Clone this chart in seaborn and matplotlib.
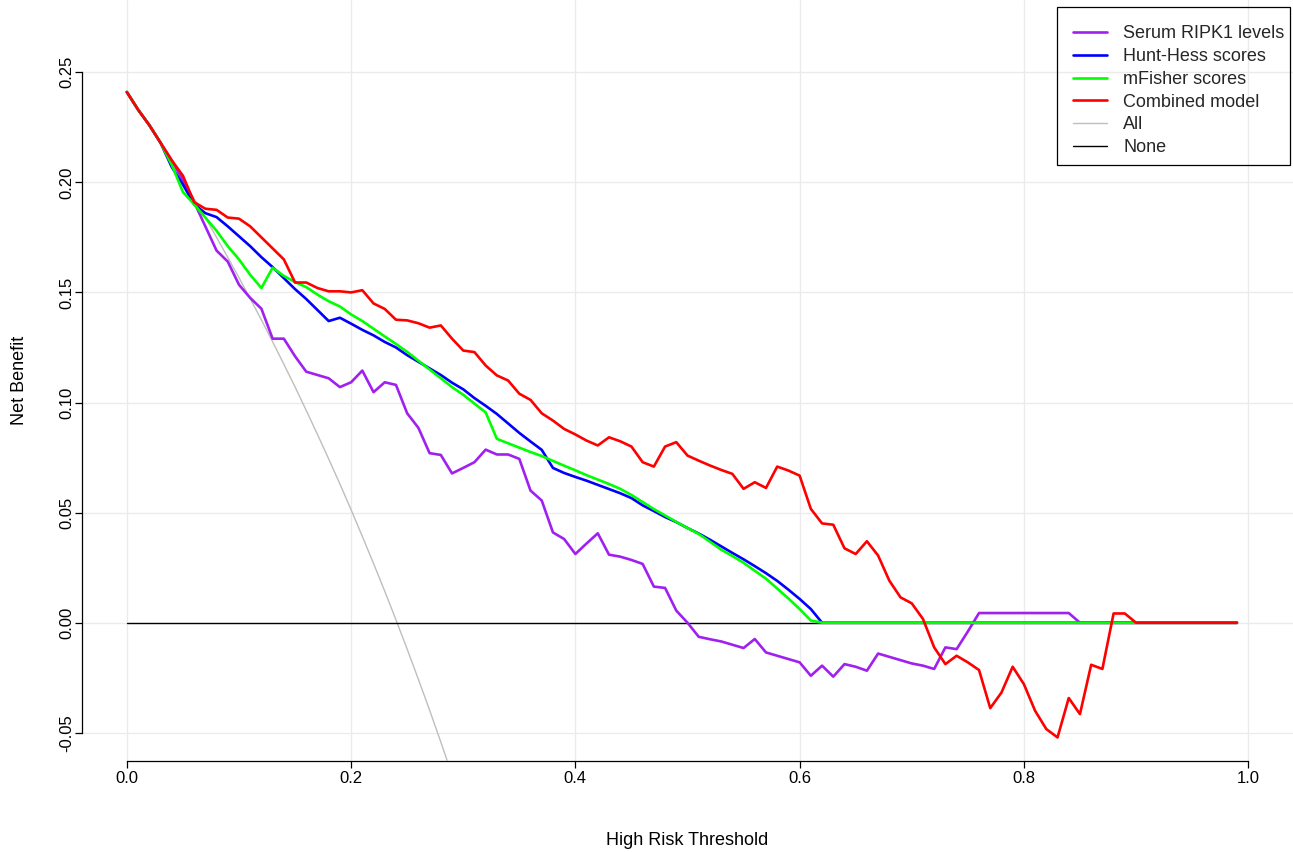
import numpy as np
import pandas as pd
import matplotlib
matplotlib.use("Agg")
import matplotlib.pyplot as plt
from matplotlib.patches import Rectangle
import seaborn as sns

# Threshold probabilities, 0.00 to 0.99
thresholds = np.round(np.arange(0, 100) * 0.01, 2)

ripk1_nb = [
    0.241, 0.233, 0.226, 0.218, 0.210, 0.201, 0.191, 0.180, 0.169, 0.164,
    0.1535, 0.1475, 0.1426, 0.129, 0.129, 0.121, 0.114, 0.1125, 0.111, 0.107,
    0.1092, 0.1145, 0.1047, 0.1092, 0.108, 0.0951, 0.0885, 0.077, 0.0762, 0.0678,
    0.0703, 0.0729, 0.0786, 0.0764, 0.0764, 0.0744, 0.060, 0.0555, 0.041, 0.038,
    0.0312, 0.036, 0.0406, 0.0309, 0.030, 0.0285, 0.0267, 0.0164, 0.0158, 0.0055,
    0.0, -0.0064, -0.0075, -0.0085, -0.010, -0.0115, -0.0074, -0.0135, -0.015, -0.0165,
    -0.018, -0.0241, -0.0195, -0.0245, -0.0188, -0.020, -0.0218, -0.014, -0.0155, -0.017,
    -0.0185, -0.0195, -0.021, -0.0112, -0.012, -0.004, 0.0044, 0.0044, 0.0044, 0.0044,
    0.0044, 0.0044, 0.0044, 0.0044, 0.0044, 0.0, 0.0, 0.0, 0.0, 0.0,
    0.0, 0.0, 0.0, 0.0, 0.0, 0.0, 0.0, 0.0, 0.0, 0.0,
]

hunt_hess_nb = [
    0.241, 0.233, 0.226, 0.218, 0.207, 0.199, 0.190, 0.186, 0.1842, 0.180,
    0.1755, 0.171, 0.166, 0.1615, 0.1565, 0.1515, 0.147, 0.142, 0.137, 0.1385,
    0.1358, 0.133, 0.1305, 0.1275, 0.125, 0.1215, 0.1185, 0.1155, 0.1125, 0.109,
    0.106, 0.102, 0.0985, 0.0948, 0.0905, 0.0862, 0.0823, 0.0785, 0.0703, 0.068,
    0.0662, 0.0645, 0.0626, 0.0607, 0.0588, 0.0566, 0.0533, 0.0507, 0.048, 0.0457,
    0.043, 0.0405, 0.0377, 0.0347, 0.0317, 0.0288, 0.0257, 0.0225, 0.019, 0.015,
    0.0108, 0.0062, 0.0, 0.0, 0.0, 0.0, 0.0, 0.0, 0.0, 0.0,
    0.0, 0.0, 0.0, 0.0, 0.0, 0.0, 0.0, 0.0, 0.0, 0.0,
    0.0, 0.0, 0.0, 0.0, 0.0, 0.0, 0.0, 0.0, 0.0, 0.0,
    0.0, 0.0, 0.0, 0.0, 0.0, 0.0, 0.0, 0.0, 0.0, 0.0,
]

mfisher_nb = [
    0.241, 0.233, 0.226, 0.218, 0.208, 0.1956, 0.190, 0.184, 0.178, 0.171,
    0.165, 0.158, 0.152, 0.1612, 0.1575, 0.1547, 0.1524, 0.149, 0.146, 0.1436,
    0.140, 0.137, 0.1335, 0.130, 0.1266, 0.123, 0.119, 0.115, 0.111, 0.107,
    0.1035, 0.0995, 0.0955, 0.0835, 0.0815, 0.0795, 0.0775, 0.0757, 0.0735, 0.0713,
    0.0692, 0.067, 0.065, 0.063, 0.0608, 0.058, 0.0548, 0.0516, 0.0487, 0.0458,
    0.043, 0.0403, 0.0368, 0.0332, 0.0303, 0.0272, 0.0236, 0.020, 0.0155, 0.011,
    0.0062, 0.001, 0.0, 0.0, 0.0, 0.0, 0.0, 0.0, 0.0, 0.0,
    0.0, 0.0, 0.0, 0.0, 0.0, 0.0, 0.0, 0.0, 0.0, 0.0,
    0.0, 0.0, 0.0, 0.0, 0.0, 0.0, 0.0, 0.0, 0.0, 0.0,
    0.0, 0.0, 0.0, 0.0, 0.0, 0.0, 0.0, 0.0, 0.0, 0.0,
]

combined_nb = [
    0.241, 0.233, 0.226, 0.218, 0.210, 0.203, 0.191, 0.188, 0.1875, 0.184,
    0.1835, 0.180, 0.175, 0.170, 0.165, 0.1545, 0.1545, 0.152, 0.1505, 0.1505,
    0.150, 0.151, 0.145, 0.1425, 0.1376, 0.1373, 0.136, 0.134, 0.135, 0.129,
    0.1236, 0.1229, 0.1168, 0.1123, 0.110, 0.104, 0.1012, 0.0951, 0.0918, 0.088,
    0.0855, 0.0827, 0.0805, 0.0842, 0.0824, 0.080, 0.0729, 0.0709, 0.080, 0.082,
    0.0759, 0.0736, 0.0714, 0.0694, 0.0676, 0.0608, 0.0638, 0.0612, 0.0709, 0.0691,
    0.0668, 0.0517, 0.0451, 0.0445, 0.0338, 0.0312, 0.037, 0.0305, 0.0191, 0.0115,
    0.0088, 0.0017, -0.0112, -0.0188, -0.015, -0.018, -0.0215, -0.0388, -0.0317, -0.020,
    -0.0279, -0.040, -0.0483, -0.0521, -0.0342, -0.0415, -0.0191, -0.021, 0.0042, 0.0042,
    0.0, 0.0, 0.0, 0.0, 0.0, 0.0, 0.0, 0.0, 0.0, 0.0,
]

# Treat-all strategy (drawn until it leaves the panel)
all_thresholds = thresholds[:30]
all_nb = [
    0.241, 0.2333, 0.2255, 0.2175, 0.2094, 0.2011, 0.1926, 0.1839, 0.1750, 0.1659,
    0.1567, 0.1472, 0.1375, 0.1276, 0.1174, 0.1071, 0.0964, 0.0855, 0.0744, 0.0630,
    0.0513, 0.0392, 0.0269, 0.0143, 0.0013, -0.0120, -0.0257, -0.0397, -0.0542, -0.0690,
]
# Treat-none strategy
none_nb = [0.0] * len(thresholds)

series_names = ["Serum RIPK1 levels", "Hunt-Hess scores", "mFisher scores",
                "Combined model", "All", "None"]
series_colors = ["#A020F0", "#0000FF", "#00FF00", "#FF0000", "#BEBEBE", "#000000"]

x_ticks = [0.0, 0.2, 0.4, 0.6, 0.8, 1.0]
x_tick_labels = ["0.0", "0.2", "0.4", "0.6", "0.8", "1.0"]
y_ticks = [-0.05, 0.0, 0.05, 0.10, 0.15, 0.20, 0.25]
y_tick_labels = ["-0.05", "0.00", "0.05", "0.10", "0.15", "0.20", "0.25"]

sns.set_theme(style="white")
plt.rcParams["font.family"] = ["Liberation Sans", "DejaVu Sans"]

W, H = 1293, 852
fig = plt.figure(figsize=(W / 100, H / 100), dpi=100)
ax = fig.add_axes([82 / W, 1 - 761 / H, (W - 82) / W, 761 / H])

ax.set_xlim(-0.04, 1.04)
ax.set_ylim(-0.05 - 0.0128, 0.27 + 0.0128)

# light grid at the tick positions
for xv in x_ticks:
    ax.axvline(xv, color="#EBEBEB", lw=1.0, zorder=0)
for yv in y_ticks:
    ax.axhline(yv, color="#EBEBEB", lw=1.0, zorder=0)

frames = {
    "All": pd.DataFrame({"threshold": all_thresholds, "net_benefit": all_nb}),
    "None": pd.DataFrame({"threshold": thresholds, "net_benefit": none_nb}),
    "Serum RIPK1 levels": pd.DataFrame({"threshold": thresholds, "net_benefit": ripk1_nb}),
    "Hunt-Hess scores": pd.DataFrame({"threshold": thresholds, "net_benefit": hunt_hess_nb}),
    "mFisher scores": pd.DataFrame({"threshold": thresholds, "net_benefit": mfisher_nb}),
    "Combined model": pd.DataFrame({"threshold": thresholds, "net_benefit": combined_nb}),
}
color_of = dict(zip(series_names, series_colors))
width_of = {"All": 1.0, "None": 1.0}

draw_order = ["All", "None", "Serum RIPK1 levels", "Hunt-Hess scores",
              "mFisher scores", "Combined model"]
for name in draw_order:
    sns.lineplot(data=frames[name], x="threshold", y="net_benefit", ax=ax,
                 color=color_of[name], linewidth=width_of.get(name, 1.9),
                 estimator=None, sort=False, label=name, zorder=3)

# R-style axes: spines spanning only the tick range
for side in ["top", "right"]:
    ax.spines[side].set_visible(False)
ax.spines["left"].set_bounds(-0.05, 0.25)
ax.spines["bottom"].set_bounds(0.0, 1.0)
for side in ["left", "bottom"]:
    ax.spines[side].set_color("black")
    ax.spines[side].set_linewidth(0.9)

ax.set_xticks(x_ticks)
ax.set_xticklabels(x_tick_labels)
ax.set_yticks(y_ticks)
ax.set_yticklabels(y_tick_labels, rotation=90, va="center")
ax.tick_params(axis="both", which="major", direction="out", length=5, width=0.9,
               color="black", labelsize=12, labelcolor="black",
               bottom=True, left=True)
ax.tick_params(axis="x", pad=2)
ax.tick_params(axis="y", pad=0.8)

ax.set_xlabel("High Risk Threshold", fontsize=13, color="black", labelpad=33)
ax.set_ylabel("Net Benefit", fontsize=13, color="black", labelpad=22)

handles, labels = ax.get_legend_handles_labels()
hmap = dict(zip(labels, handles))
leg = ax.legend([hmap[n] for n in series_names], series_names,
                loc="upper left", bbox_to_anchor=(1073 / W, 1 - 25.5 / H),
                bbox_transform=fig.transFigure, fontsize=13, frameon=False,
                labelspacing=0.315, handlelength=1.88, handletextpad=0.89,
                borderpad=0, borderaxespad=0)

# legend border box
fig.patches.append(Rectangle((1057 / W, 1 - 165 / H), (1290 - 1057) / W, (165 - 7) / H,
                             transform=fig.transFigure, fill=False,
                             edgecolor="black", linewidth=0.9, zorder=5))

fig.savefig("out.png", dpi=100, facecolor="white")
